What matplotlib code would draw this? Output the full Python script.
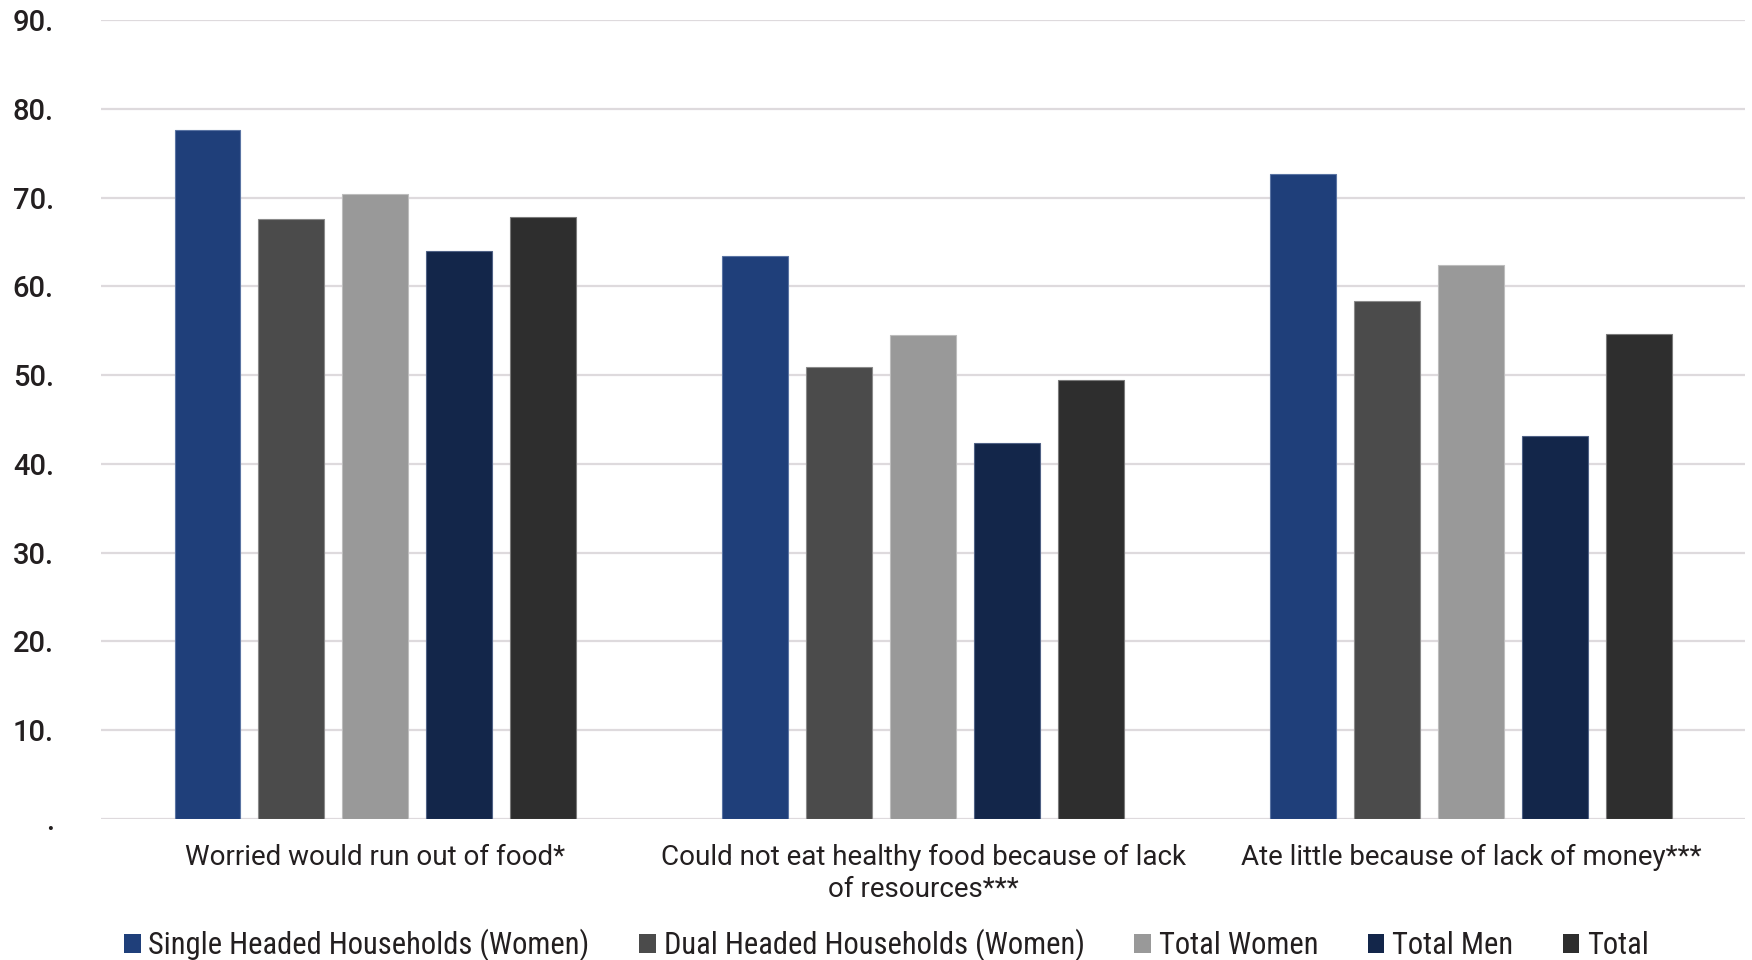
import matplotlib
matplotlib.use("Agg")
import matplotlib.pyplot as plt
from matplotlib.patches import Patch
from matplotlib import font_manager
import numpy as np

categories = [
    "Worried would run out of food*",
    "Could not eat healthy food because of lack\nof resources***",
    "Ate little because of lack of money***",
]
series_names = [
    "Single Headed Households (Women)",
    "Dual Headed Households (Women)",
    "Total Women",
    "Total Men",
    "Total",
]
single_headed = [77.6, 63.4, 72.7]
dual_headed = [67.6, 50.9, 58.3]
total_women = [70.4, 54.5, 62.4]
total_men = [64.0, 42.4, 43.1]
total_all = [67.8, 49.5, 54.6]
y_ticks = [0, 10, 20, 30, 40, 50, 60, 70, 80, 90]

series_values = [single_headed, dual_headed, total_women, total_men, total_all]
colors = ["#1F3F7A", "#4B4B4B", "#999999", "#13264A", "#2E2E2E"]
edges = ["#5A74A3", "#8A8A8A", "#BDBDBD", "#4F6185", "#7A7A7A"]
text_color = "#231F20"

# Narrow face for the legend when one is available
available = {f.name for f in font_manager.fontManager.ttflist}
legend_family, legend_size = "Roboto", 20
for name, size in [("Liberation Sans Narrow", 22), ("Roboto Condensed", 22),
                   ("Open Sans Condensed", 21)]:
    if name in available:
        legend_family, legend_size = name, size
        break

fig = plt.figure(figsize=(17.52, 9.6), dpi=100)
ax = fig.add_axes([0.0577, 0.1469, 0.9383, 0.8323])

x = np.arange(len(categories))
pitch = 0.153
width = 0.12
for i, (vals, c, ec) in enumerate(zip(series_values, colors, edges)):
    ax.bar(x + (i - 2) * pitch, vals, width=width, color=c,
           edgecolor=ec, linewidth=0.8, zorder=3)

ax.set_xlim(-0.5, len(categories) - 0.5)
ax.set_ylim(0, 90)
ax.set_yticks(y_ticks)
ax.set_yticklabels([f"{v}." if v else "." for v in y_ticks],
                   fontsize=21, color=text_color, fontfamily="Roboto",
                   fontweight="medium")
ax.tick_params(axis="y", length=0, pad=34)
ax.set_xticks(x)
ax.set_xticklabels(categories, fontsize=20, color=text_color,
                   fontfamily="Roboto", linespacing=1.25)
ax.tick_params(axis="x", length=0, pad=18)

ax.grid(axis="y", color="#DEDADD", linewidth=1.6, zorder=0)
ax.set_axisbelow(True)
for s in ax.spines.values():
    s.set_visible(False)

handles = [Patch(facecolor=c, edgecolor="none") for c in colors]
fig.legend(handles, series_names, loc="center", ncol=5,
           bbox_to_anchor=(0.506, 0.0155), frameon=False,
           prop={"family": [legend_family, "DejaVu Sans"],
                 "size": legend_size, "weight": "normal"},
           handlelength=0.55, handleheight=0.55, handletextpad=0.25,
           columnspacing=1.62, labelcolor=text_color, borderpad=0)

fig.savefig("out.png", dpi=100, facecolor="white")
